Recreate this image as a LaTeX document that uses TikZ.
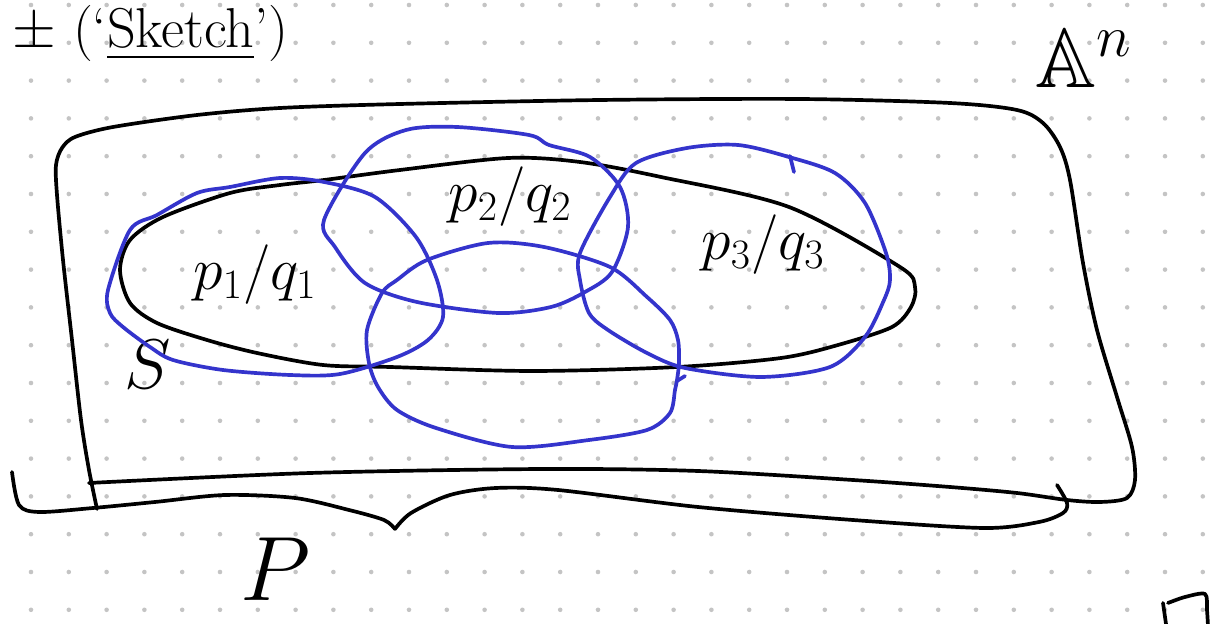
\RequirePackage{fix-cm}
\documentclass[tikz,border=0pt]{standalone}
\usepackage{fontspec}
\usepackage{amsmath,amssymb}
\usepackage{tikz}
\usetikzlibrary{positioning}
\definecolor{penblue}{RGB}{52,52,204}
\definecolor{dotgray}{RGB}{196,196,196}

\begin{document}
\begin{tikzpicture}[
    x=0.02cm, y=-0.02cm,
    ink/.style={black, line width=2.1pt, line cap=round, line join=round},
    bluepen/.style={penblue, line width=2.1pt, line cap=round, line join=round},
    griddot/.style={fill=dotgray},
    hand/.style={inner sep=0pt, font=\fontsize{34}{38}\selectfont}
]
\useasboundingbox (0,0) rectangle (1215,624);
\fill[white] (0,0) rectangle (1215,624);

% dotted paper
\foreach \i in {0,...,31} {
    \foreach \j in {0,...,16} {
        \fill[griddot] ({31+37.8*\i}, {5+37.8*\j}) circle (1.3pt);
    }
}

% title
\node[anchor=base west, inner sep=0pt, font=\fontsize{32}{36}\selectfont] (title) at (12,48)
    {$\pm$ (`\underline{Sketch}')};

% the ambient space
\draw[ink] plot[smooth] coordinates {(97,509) (89,470) (81,420) (72,340) (63,260) (57,195)
    (56,165) (62,148) (75,137) (113,127) (197,115) (280,108) (400,104) (600,100) (800,99)
    (950,103) (1017,110) (1043,123) (1060,147) (1070,180) (1083,263) (1097,330) (1117,397)
    (1132,447) (1135,480) (1127,498) (1100,502) (1067,500) (1017,493) (950,487) (853,480)
    (698,471) (543,469) (310,473) (89,483)};
\node[font=\fontsize{48}{52}\selectfont, inner sep=0pt] (affine) at (1084,58) {$\mathbb{A}^n$};

% brace
\draw[ink] plot[smooth] coordinates {(12,472) (19,505) (39,512) (93,508) (155,502) (225,495)
    (295,498) (349,510) (384,520) (395,529)};
\draw[ink] plot[smooth] coordinates {(395,529) (411,513) (450,495) (496,488) (558,490)
    (698,507) (853,520) (984,528) (1039,522) (1063,513) (1067,503) (1057,485)};
\node[font=\fontsize{52}{58}\selectfont, inner sep=0pt, anchor=north] (projP) at (276,538) {$P$};

% the set S
\draw[ink] plot[smooth cycle] coordinates {(120,270) (130,240) (163,217) (230,193) (280,185)
    (324,180) (400,170) (508,158) (580,162) (661,177) (789,207) (900,267) (915,287) (911,307)
    (892,327) (838,345) (781,358) (677,367) (532,371) (390,367) (323,365) (257,353) (207,340)
    (157,323) (130,303)};
\node[font=\fontsize{40}{44}\selectfont, inner sep=0pt] (setS) at (148,364) {$S$};

% open pieces
\draw[bluepen] plot[smooth cycle] coordinates {(108,290) (130,230) (157,215) (197,193) (230,187)
    (280,178) (324,182) (375,197) (416,237) (437,280) (443,317) (428,340) (397,357) (340,374)
    (290,375) (223,370) (173,360) (150,347) (123,327) (110,313)};
\draw[bluepen] plot[smooth cycle] coordinates {(324,220) (335,247) (365,283) (417,302) (498,313)
    (551,307) (585,292) (612,272) (628,227) (620,187) (590,157) (549,145) (529,135) (457,127)
    (406,130) (365,153)};
\draw[bluepen] plot[smooth cycle] coordinates {(367,330) (382,293) (397,280) (427,260) (488,243)
    (544,247) (610,267) (647,297) (670,320) (678,340) (679,363) (677,380) (675,390) (670,413)
    (647,430) (589,440) (512,447) (436,428) (397,410) (378,387) (369,363)};
\draw[bluepen] (677,381) -- (685,376);
\draw[bluepen] plot[smooth cycle] coordinates {(580,253) (610,197) (636,163) (687,148) (738,145)
    (789,157) (835,173) (865,203) (886,253) (890,280) (884,300) (865,337) (830,367) (761,377)
    (685,368) (647,353) (608,330) (589,313) (580,280)};
\draw[bluepen] (790,156) -- (794,172);

\node[hand] (lbl1) at (255,275) {$p_1/q_1$};
\node[hand] (lbl2) at (510,197) {$p_2/q_2$};
\node[hand] (lbl3) at (763,245) {$p_3/q_3$};

% fragment at the lower right edge
\draw[ink] (1163,603) -- (1166,624);
\draw[ink] plot[smooth] coordinates {(1168,603) (1185,597) (1205,594) (1207,610) (1208,626)};

\end{tikzpicture}
\end{document}
